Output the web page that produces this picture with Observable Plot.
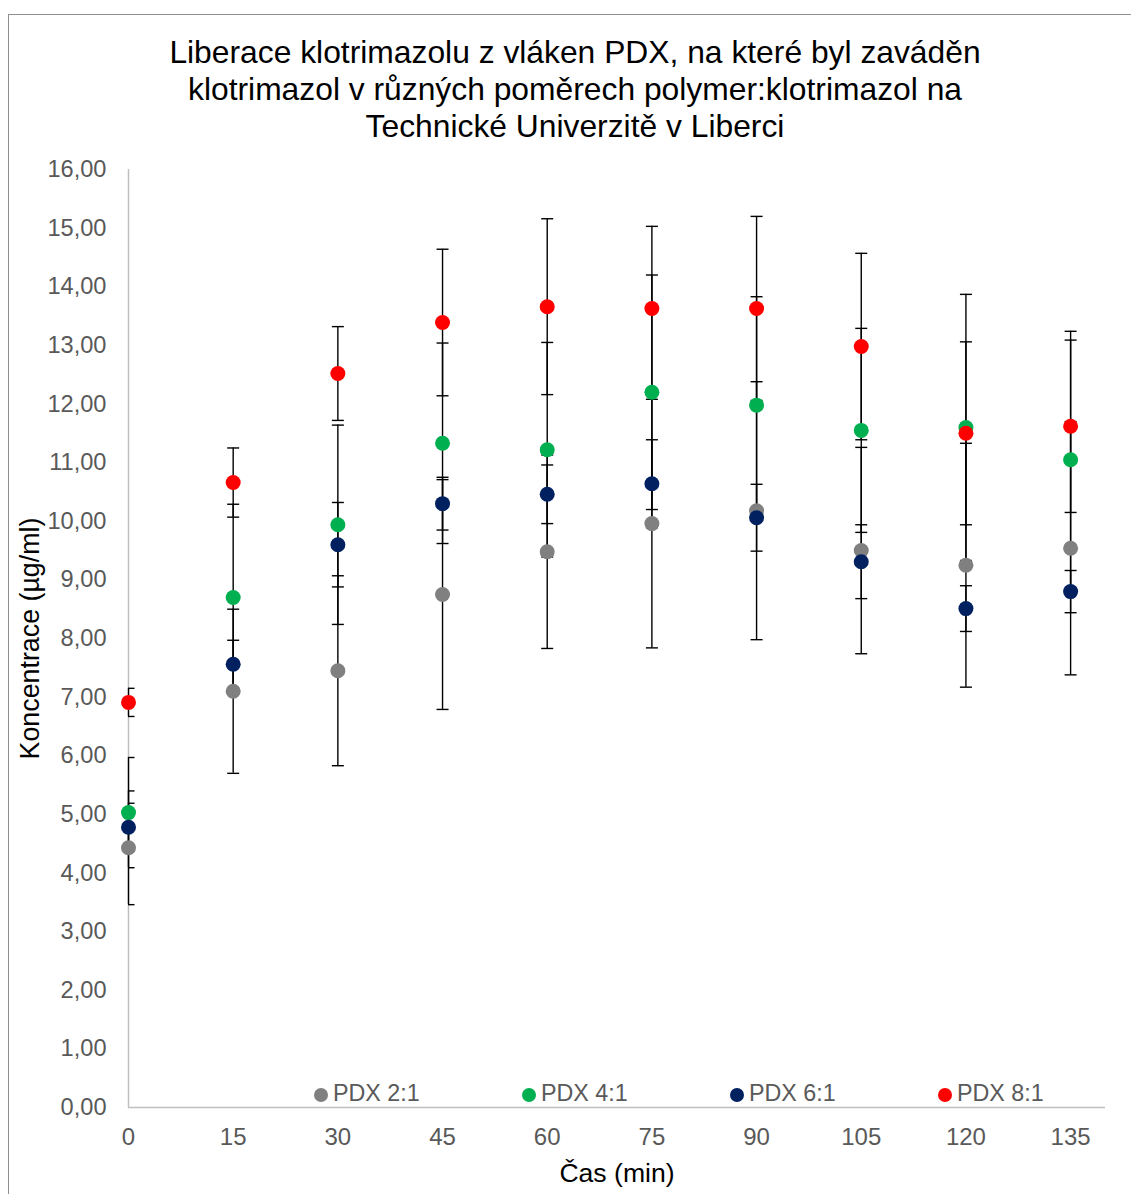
<!DOCTYPE html>
<html>
<head>
<meta charset="utf-8">
<script src="https://cdn.jsdelivr.net/npm/d3@7"></script>
<script src="https://cdn.jsdelivr.net/npm/@observablehq/plot@0.6"></script>
<style>
  body { margin: 0; background: white; font-family: "Liberation Sans", Arial, sans-serif; }
  #wrap { position: relative; width: 1131px; height: 1194px; overflow: hidden; }
  #border { position: absolute; left: 8px; top: 14px; width: 1140px; height: 1200px; border: 1.5px solid #8f8f8f; box-sizing: border-box; pointer-events: none; }
  #title { position: absolute; left: 0; top: 34px; width: 1150px; text-align: center; font-size: 31.8px; line-height: 37px; color: #000; }
  #chart { position: absolute; left: 0; top: 0; }
  .leg { position: absolute; top: 1080px; font-size: 23.3px; color: #595959; white-space: nowrap; line-height: 26px; }
  .leg i { display: inline-block; width: 14px; height: 14px; border-radius: 50%; margin-right: 5px; vertical-align: -1px; }
</style>
</head>
<body>
<div id="wrap">
  <div id="chart"></div>
  <div id="border"></div>
  <div id="title">Liberace klotrimazolu z vláken PDX, na které byl zaváděn<br>klotrimazol v různých poměrech polymer:klotrimazol na<br>Technické Univerzitě v Liberci</div>
  <div id="legend"></div>
</div>
<script>
const times = [0, 15, 30, 45, 60, 75, 90, 105, 120, 135];
const seriesNames = ["PDX 2:1", "PDX 4:1", "PDX 6:1", "PDX 8:1"];
const seriesColors = ["#808080", "#00b050", "#002060", "#ff0000"];

const pdx21 = [4.43, 7.10, 7.45, 8.75, 9.48, 9.96, 10.18, 9.50, 9.25, 9.54];
const pdx41 = [5.03, 8.70, 9.94, 11.33, 11.22, 12.20, 11.98, 11.55, 11.60, 11.05];
const pdx61 = [4.78, 7.56, 9.60, 10.30, 10.46, 10.64, 10.06, 9.31, 8.51, 8.80];
const pdx81 = [6.91, 10.66, 12.52, 13.39, 13.66, 13.63, 13.63, 12.98, 11.50, 11.62];

const err21 = [0.97, 1.40, 1.62, 1.96, 1.65, 2.12, 2.20, 1.76, 2.08, 2.16];
const err41 = [0.94, 1.59, 1.70, 1.71, 1.83, 2.00, 1.85, 1.74, 2.27, 2.19];
const err61 = [0.41, 0.41, 0.72, 0.45, 0.50, 0.75, 0.57, 0.63, 0.39, 0.36];
const err81 = [0.24, 0.59, 0.80, 1.25, 1.50, 1.40, 1.57, 1.59, 1.56, 1.47];

const yTicks = d3.range(0, 17, 1);
const xTicks = [0, 15, 30, 45, 60, 75, 90, 105, 120, 135];

const allValues = [pdx21, pdx41, pdx61, pdx81];
const allErrors = [err21, err41, err61, err81];
const data = [];
allValues.forEach((vals, si) => {
  vals.forEach((v, i) => {
    data.push({series: seriesNames[si], t: times[i], v, e: allErrors[si][i]});
  });
});

const capSymbol = {
  draw(context, size) {
    const w = Math.sqrt(size / Math.PI);
    context.moveTo(-w, 0);
    context.lineTo(w, 0);
  }
};

const fmt = d => d.toFixed(2).replace(".", ",");

const chart = Plot.plot({
  width: 1131,
  height: 1194,
  marginTop: 169,
  marginBottom: 87,
  marginLeft: 128,
  marginRight: 26,
  style: {background: "transparent", fontFamily: "'Liberation Sans', Arial, sans-serif"},
  x: {domain: [0, 140]},
  y: {domain: [0, 16]},
  color: {domain: seriesNames, range: seriesColors},
  marks: [
    Plot.ruleX([0], {stroke: "#bfbfbf", strokeWidth: 1.5}),
    Plot.ruleY([0], {stroke: "#bfbfbf", strokeWidth: 1.5}),
    Plot.axisY({ticks: yTicks, tickSize: 0, tickPadding: 22, tickFormat: fmt, fontSize: 23.6, color: "#595959", label: null}),
    Plot.axisX({ticks: xTicks, tickSize: 0, tickPadding: 20, tickFormat: d => String(d), fontSize: 24, color: "#595959", label: null}),
    Plot.text(["Čas (min)"], {frameAnchor: "bottom", dy: 74, fontSize: 26.6, fill: "black"}),
    Plot.text(["Koncentrace (µg/ml)"], {frameAnchor: "left", textAnchor: "middle", dx: -98, rotate: -90, fontSize: 26.8, fill: "black"}),
    Plot.ruleX(data, {x: "t", y1: d => d.v - d.e, y2: d => d.v + d.e, stroke: "black", strokeWidth: 1.4}),
    Plot.dot(data, {x: "t", y: d => d.v - d.e, symbol: capSymbol, r: 6, stroke: "black", strokeWidth: 1.4, fill: "none", clip: true}),
    Plot.dot(data, {x: "t", y: d => d.v + d.e, symbol: capSymbol, r: 6, stroke: "black", strokeWidth: 1.4, fill: "none", clip: true}),
    Plot.dot(data, {x: "t", y: "v", fill: "series", r: 7.5, stroke: "none"})
  ]
});
document.getElementById("chart").appendChild(chart);

const legendX = [314, 522, 730, 938];
const legend = document.getElementById("legend");
seriesNames.forEach((name, i) => {
  const s = document.createElement("div");
  s.className = "leg";
  s.style.left = legendX[i] + "px";
  s.innerHTML = `<i style="background:${seriesColors[i]}"></i>${name}`;
  legend.appendChild(s);
});
</script>
</body>
</html>
